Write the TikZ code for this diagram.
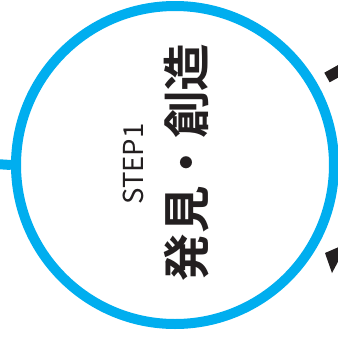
\documentclass[tikz,border=0pt]{standalone}
\usepackage{fontspec}
\newfontfamily\jpfont{Noto Sans CJK JP}
\newfontfamily\jpbold{Noto Sans CJK JP Bold}
\definecolor{cyanblue}{HTML}{00AEEF}
\definecolor{inkblack}{HTML}{231F20}
\tikzset{
  ring/.style={circle, draw=cyanblue, line width=10pt, minimum size=318pt, inner sep=0pt},
  link/.style={draw=cyanblue, line width=10pt},
  steplabel/.style={rotate=90, font=\jpfont\fontsize{27.5}{27.5}\selectfont, text=inkblack, inner sep=0pt},
  titlelabel/.style={rotate=90, font=\jpbold\fontsize{47.5}{47.5}\selectfont, text=inkblack, inner sep=0pt},
  darkbar/.style={draw=inkblack, line width=11pt}
}
\begin{document}
\begin{tikzpicture}[x=1pt,y=-1pt]
\useasboundingbox (0,0) rectangle (338,341);
\begin{scope}
\clip (0,0) rectangle (338,341);
\node[ring] (c) at (175,165) {};
\coordinate (l) at (-5,164);
\draw[link] (l) -- (c.west);
\node[steplabel] (s) at (133,164) {STEP1};
\node[titlelabel] (t) at (187,162.5) {発見・創造};
\coordinate (b1) at (327,77.5);
\coordinate (b2) at (362,58);
\draw[darkbar] (b1) -- (b2);
\coordinate (h1) at (325,253);
\coordinate (h2) at (348,243);
\coordinate (h3) at (332,273);
\fill[inkblack] (h1) -- (h2) -- (h3) -- cycle;
\end{scope}
\end{tikzpicture}
\end{document}
